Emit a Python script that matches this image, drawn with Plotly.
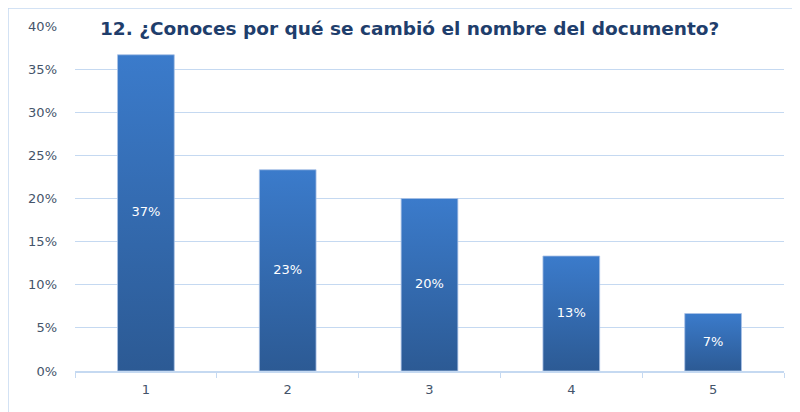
import plotly.graph_objects as go

# survey answers (share of respondents)
categories = ["1", "2", "3", "4", "5"]
shares = [11 / 30, 7 / 30, 6 / 30, 4 / 30, 2 / 30]
labels = ["37%", "23%", "20%", "13%", "7%"]
title = "12. ¿Conoces por qué se cambió el nombre del documento?"

# the page puts the figure 8px in from the top left corner
W, H = 800, 412
ML, MR, MT, MB = 67, 24, 18, 49
pw, ph = W - ML - MR, H - MT - MB
GRID = "#c5d9f1"
HALF = 0.2  # half bar width, in category units

fig = go.Figure()
for i, (cat, v) in enumerate(zip(categories, shares)):
    fig.add_trace(go.Scatter(
        x=[i - HALF, i + HALF, i + HALF, i - HALF, i - HALF],
        y=[0, 0, v, v, 0],
        mode="lines",
        fill="toself",
        fillgradient=dict(type="vertical",
                          colorscale=[[0, "#2c5a94"], [1, "#3b7bcb"]]),
        line=dict(color="#a9c2e6", width=0.8),
        hoverinfo="skip",
        name=cat,
    ))

fig.add_trace(go.Scatter(
    x=list(range(len(categories))),
    y=[v / 2 for v in shares],
    mode="text",
    text=labels,
    textfont=dict(color="white", size=13, family="DejaVu Sans"),
    hoverinfo="skip",
))

fig.update_layout(
    width=W, height=H,
    margin=dict(l=ML, r=MR, t=MT, b=MB),
    plot_bgcolor="white",
    paper_bgcolor="white",
    showlegend=False,
    font=dict(family="DejaVu Sans", color="#44546a", size=12),
    title=dict(
        text=f"<b>{title}</b>",
        x=(100 - 8 - ML) / pw, xref="paper", xanchor="left",
        y=1.0 - 3 / ph, yref="paper", yanchor="middle",
        font=dict(family="DejaVu Sans", size=18.5, color="#1f3e6c"),
    ),
    xaxis=dict(
        range=[-0.5, len(categories) - 0.5],
        tickvals=list(range(len(categories))),
        ticktext=categories,
        showgrid=False, zeroline=False,
        showline=True, linecolor=GRID, linewidth=1.5,
        ticks="", ticklabelstandoff=6,
        minor=dict(ticks="outside", tick0=-0.5, dtick=1, ticklen=5,
                   tickcolor=GRID, showgrid=False),
        tickfont=dict(size=13, color="#44546a"),
    ),
    yaxis=dict(
        range=[0, 0.4], dtick=0.05, tickformat=".0%",
        showgrid=True, gridcolor=GRID, gridwidth=1,
        zeroline=False, showline=False,
        ticks="", ticklabelstandoff=17,
        tickfont=dict(size=13, color="#44546a"),
    ),
    shapes=[
        dict(type="line", xref="paper", yref="paper",
             x0=-ML / pw, x1=(W - ML) / pw,
             y0=(H - MB) / ph, y1=(H - MB) / ph,
             line=dict(color=GRID, width=1.5)),
        dict(type="line", xref="paper", yref="paper",
             x0=-ML / pw, x1=-ML / pw,
             y0=(H - MB) / ph, y1=-MB / ph,
             line=dict(color=GRID, width=1.5)),
    ],
)

fig.write_html("out.html")
